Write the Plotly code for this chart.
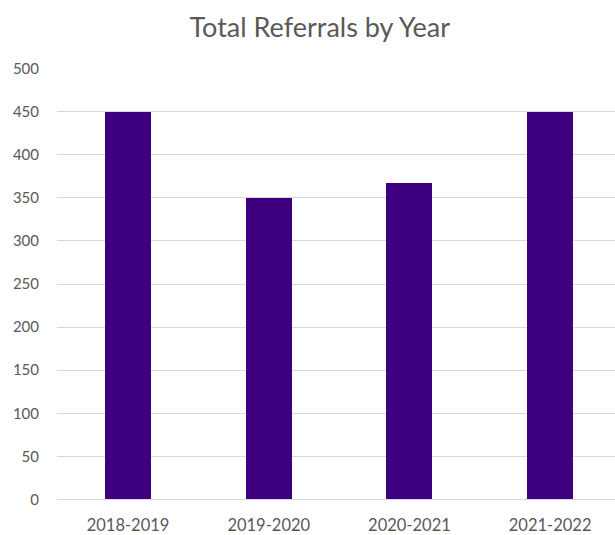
import plotly.graph_objects as go

categories = ["2018-2019", "2019-2020", "2020-2021", "2021-2022"]
referrals = [450, 350, 367, 450]
y_ticks = [0, 50, 100, 150, 200, 250, 300, 350, 400, 450, 500]

fig = go.Figure()
fig.add_trace(go.Bar(
    x=categories,
    y=referrals,
    marker=dict(color="#3f007f", line=dict(width=0)),
    width=0.327,
))

fig.update_layout(
    width=615,
    height=535,
    margin=dict(l=57, r=0, t=68, b=33),
    paper_bgcolor="white",
    plot_bgcolor="white",
    showlegend=False,
    font=dict(family="Lato, Open Sans, sans-serif", color="#595959"),
    title=dict(
        text="Total Referrals by Year",
        x=0.52,
        xanchor="center",
        y=0.9477,
        yanchor="middle",
        font=dict(size=27, color="#595959"),
    ),
    bargap=0,
)

fig.update_xaxes(
    type="category",
    range=[-0.505, 3.461],
    showgrid=False,
    showline=False,
    zeroline=False,
    ticks="outside",
    ticklen=10,
    tickcolor="rgba(0,0,0,0)",
    tickfont=dict(size=16.5, color="#595959"),
)

fig.update_yaxes(
    range=[-0.6, 500.6],
    tickvals=y_ticks,
    showgrid=True,
    gridcolor="#d9d9d9",
    gridwidth=1,
    zeroline=True,
    zerolinecolor="#d9d9d9",
    zerolinewidth=1,
    showline=False,
    ticks="outside",
    ticklen=14,
    tickcolor="rgba(0,0,0,0)",
    tickfont=dict(size=15, color="#595959"),
)

fig.write_html("out.html")
